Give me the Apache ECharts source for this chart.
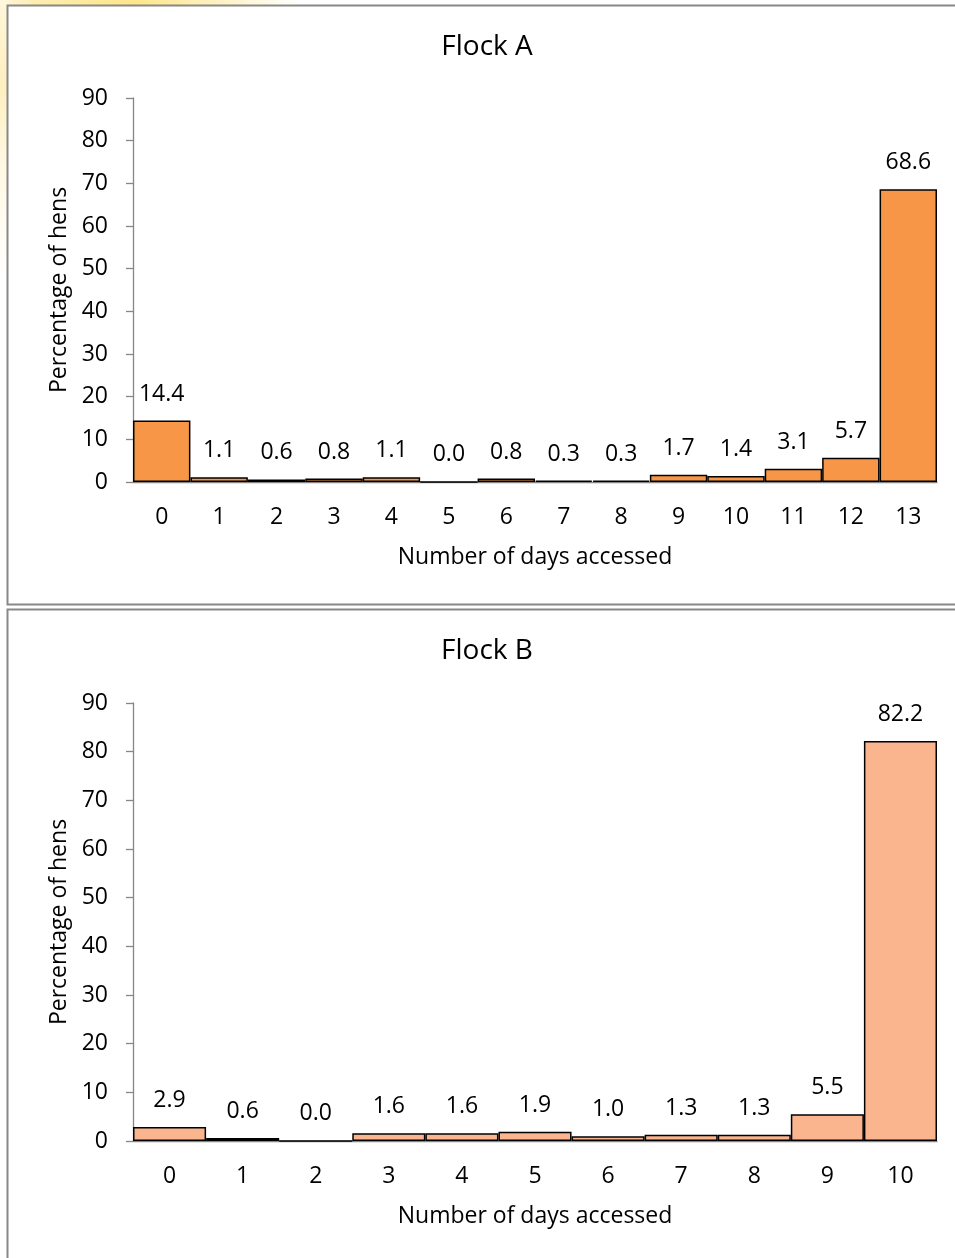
<!DOCTYPE html>
<html>
<head>
<meta charset="utf-8">
<script src="https://cdn.jsdelivr.net/npm/echarts@6/dist/echarts.min.js"></script>
<style>
  html, body { margin: 0; padding: 0; background: #ffffff; }
  #chart { width: 955px; height: 1258px; }
</style>
</head>
<body>
<div id="chart"></div>
<script>
// Percentage of hens by number of days the range was accessed
const daysA = ['0','1','2','3','4','5','6','7','8','9','10','11','12','13'];
const flockA = [14.4, 1.1, 0.6, 0.8, 1.1, 0.0, 0.8, 0.3, 0.3, 1.7, 1.4, 3.1, 5.7, 68.6];
const daysB = ['0','1','2','3','4','5','6','7','8','9','10'];
const flockB = [2.9, 0.6, 0.0, 1.6, 1.6, 1.9, 1.0, 1.3, 1.3, 5.5, 82.2];
const yTicks = [0, 10, 20, 30, 40, 50, 60, 70, 80, 90];

const FONT = 'Open Sans';
const TXT = '#000000';
const AXIS = '#868686';
const FS = 23;

const chart = echarts.init(document.getElementById('chart'), null, { renderer: 'canvas' });

function xAxisFor(cats, gridIndex) {
  return {
    type: 'category', gridIndex, data: cats,
    axisLine: { lineStyle: { color: AXIS, width: 1.3 } },
    axisTick: { show: false },
    axisLabel: { color: TXT, fontFamily: FONT, fontSize: FS, margin: 24 },
    name: 'Number of days accessed', nameLocation: 'middle', nameGap: 64,
    nameTextStyle: { color: TXT, fontFamily: FONT, fontSize: FS }
  };
}
function yAxisFor(gridIndex) {
  return {
    type: 'value', gridIndex,
    min: yTicks[0], max: yTicks[yTicks.length - 1], interval: yTicks[1] - yTicks[0],
    axisLine: { show: true, lineStyle: { color: AXIS, width: 1.3 } },
    axisTick: { show: true, length: 7, lineStyle: { color: AXIS, width: 1.3 } },
    splitLine: { show: false },
    axisLabel: { color: TXT, fontFamily: FONT, fontSize: FS, margin: 25 },
    name: 'Percentage of hens', nameLocation: 'middle', nameGap: 59,
    nameTextStyle: { color: TXT, fontFamily: FONT, fontSize: FS }
  };
}
function barSeries(values, color, idx) {
  return {
    type: 'bar', xAxisIndex: idx, yAxisIndex: idx, data: values,
    barWidth: '100%', barCategoryGap: 0,
    itemStyle: { color, borderColor: '#000000', borderWidth: 1.5 },
    label: {
      show: true, position: 'top', distance: 15,
      color: TXT, fontFamily: FONT, fontSize: FS,
      formatter: p => p.value.toFixed(1)
    },
    silent: true
  };
}

chart.setOption({
  animation: false,
  backgroundColor: '#ffffff',
  grid: [
    { left: 133, right: 18, top: 98, bottom: 776 },
    { left: 133, right: 18, top: 703, bottom: 117 }
  ],
  xAxis: [xAxisFor(daysA, 0), xAxisFor(daysB, 1)],
  yAxis: [yAxisFor(0), yAxisFor(1)],
  series: [barSeries(flockA, '#F79646', 0), barSeries(flockB, '#FAB58E', 1)],
  graphic: [
    // soft yellow glow behind the top-left corner of the first panel
    { type: 'rect', z: -10, shape: { x: 0, y: 0, width: 300, height: 6 },
      style: { fill: new echarts.graphic.LinearGradient(0, 0, 1, 0, [
        { offset: 0, color: '#FFF7DC' }, { offset: 0.12, color: '#FEEDB0' },
        { offset: 0.45, color: '#FDE68A' }, { offset: 0.75, color: '#FEF3C8' },
        { offset: 1, color: '#FFFFFF' }]) } },
    { type: 'rect', z: -10, shape: { x: 0, y: 0, width: 7, height: 280 },
      style: { fill: new echarts.graphic.LinearGradient(0, 0, 0, 1, [
        { offset: 0, color: '#FFF7DC' }, { offset: 0.3, color: '#FEEFC0' },
        { offset: 0.6, color: '#FFF8E4' }, { offset: 1, color: '#FFFFFF' }]) } },
    // panel frames
    { type: 'rect', z: -5, shape: { x: 7.5, y: 5.5, width: 960, height: 599 },
      style: { fill: '#ffffff', stroke: '#888888', lineWidth: 2 } },
    { type: 'rect', z: -5, shape: { x: 7.5, y: 609.5, width: 960, height: 660 },
      style: { fill: '#ffffff', stroke: '#888888', lineWidth: 2 } },
    // panel titles
    { type: 'text', x: 487, y: 47, style: { text: 'Flock A', fill: TXT,
      font: '28px "' + FONT + '"', textAlign: 'center', textVerticalAlign: 'middle' } },
    { type: 'text', x: 487, y: 651, style: { text: 'Flock B', fill: TXT,
      font: '28px "' + FONT + '"', textAlign: 'center', textVerticalAlign: 'middle' } }
  ]
});
</script>
</body>
</html>
